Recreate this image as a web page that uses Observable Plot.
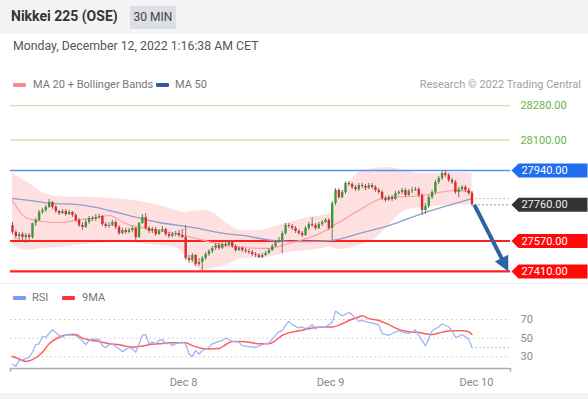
<!DOCTYPE html>
<html><head><meta charset="utf-8">
<script src="https://cdn.jsdelivr.net/npm/d3@7"></script>
<script src="https://cdn.jsdelivr.net/npm/@observablehq/plot@0.6"></script>
<style>
body{margin:0;background:#fff;font-family:Roboto,"Liberation Sans",sans-serif;}
#wrap{position:relative;width:588px;height:399px;overflow:hidden;background:#fff}
.abs{position:absolute;white-space:nowrap}
.sw{position:absolute;height:4px;width:13px;border-radius:1px}
#main,#rsi{position:absolute;left:0}
#main{top:95px}
#rsi{top:300px}
</style></head>
<body><div id="wrap">
<div class="abs" style="left:0;top:0;width:588px;height:34px;background:#f4f4f4"></div>
<div class="abs" style="left:11px;top:8px;font-size:14px;font-weight:700;color:#333">Nikkei 225 (OSE)</div>
<div class="abs" style="left:130px;top:6px;width:46px;height:23px;line-height:23px;background:#dcdfe4;text-align:center;font-size:12px;color:#444">30 MIN</div>
<div class="abs" style="left:13px;top:39px;font-size:12.3px;color:#555">Monday, December 12, 2022 1:16:38 AM CET</div>
<div class="sw" style="left:13px;top:83px;background:#f88"></div>
<div class="abs" style="left:33px;top:78px;font-size:11px;color:#777">MA 20 + Bollinger Bands</div>
<div class="sw" style="left:156px;top:83px;background:#2f5c9e"></div>
<div class="abs" style="left:175px;top:78px;font-size:11px;color:#777">MA 50</div>
<div class="abs" style="right:7px;top:78px;font-size:11px;color:#a0a0a0">Research © 2022 Trading Central</div>
<div class="abs" style="left:0;top:283px;width:588px;height:1px;background:#eee"></div>
<div class="sw" style="left:13px;top:296px;background:#7b9cf0"></div>
<div class="abs" style="left:32px;top:291px;font-size:11px;color:#777">RSI</div>
<div class="sw" style="left:62px;top:296px;background:#f33"></div>
<div class="abs" style="left:82px;top:291px;font-size:11px;color:#777">9MA</div>
<div class="abs" style="left:0;top:393px;width:588px;height:6px;background:#f3f3f3"></div>
<div id="main"></div>
<div id="rsi"></div>
</div>
<script>
// ---- candles (30 min) ----
const opens = [27651,27615,27594,27604,27588,27599,27588,27662,27678,27720,
 27730,27746,27772,27746,27725,27714,27725,27709,27720,27704,
 27678,27651,27641,27667,27688,27683,27693,27699,27657,27646,
 27651,27667,27641,27609,27625,27615,27625,27636,27588,27662,
 27693,27636,27620,27630,27604,27620,27630,27604,27594,27604,
 27609,27599,27588,27478,27468,27494,27447,27457,27478,27499,
 27515,27531,27546,27531,27552,27546,27562,27541,27520,27531,
 27520,27515,27510,27499,27494,27483,27494,27504,27520,27541,
 27562,27573,27609,27651,27646,27636,27620,27609,27599,27636,
 27657,27651,27636,27657,27667,27678,27636,27767,27835,27798,
 27825,27872,27867,27851,27840,27861,27856,27846,27861,27851,
 27835,27825,27793,27783,27798,27788,27819,27825,27835,27809,
 27830,27835,27840,27809,27730,27751,27798,27825,27877,27898,
 27924,27914,27888,27877,27825,27840,27851,27835,27819];
const closes = [27615,27594,27604,27588,27599,27588,27662,27678,27720,27730,
 27746,27772,27746,27725,27714,27725,27709,27720,27704,27678,
 27651,27641,27667,27688,27683,27693,27699,27657,27646,27651,
 27667,27641,27609,27625,27615,27625,27636,27588,27662,27693,
 27636,27620,27630,27604,27620,27630,27604,27594,27604,27609,
 27599,27588,27478,27468,27494,27447,27457,27478,27499,27515,
 27531,27546,27531,27552,27546,27562,27541,27520,27531,27520,
 27515,27510,27499,27494,27483,27494,27504,27520,27541,27562,
 27573,27609,27651,27646,27636,27620,27609,27599,27636,27657,
 27651,27636,27657,27667,27678,27636,27767,27835,27798,27825,
 27872,27867,27851,27840,27861,27856,27846,27861,27851,27835,
 27825,27793,27783,27798,27788,27819,27825,27835,27809,27830,
 27835,27840,27809,27730,27751,27798,27825,27877,27898,27924,
 27914,27888,27877,27825,27840,27851,27835,27819,27760];
const highs = [27667,27625,27615,27615,27609,27609,27662,27688,27730,27741,
 27756,27788,27777,27756,27730,27735,27735,27730,27725,27714,
 27688,27667,27683,27699,27699,27709,27709,27704,27667,27667,
 27678,27678,27651,27636,27636,27636,27646,27641,27667,27709,
 27714,27646,27641,27641,27630,27646,27636,27615,27615,27620,
 27625,27630,27651,27494,27504,27499,27478,27489,27510,27525,
 27541,27557,27557,27562,27567,27573,27573,27552,27541,27541,
 27531,27525,27520,27510,27504,27504,27515,27531,27552,27573,
 27588,27620,27662,27662,27657,27646,27630,27620,27646,27667,
 27693,27662,27667,27678,27688,27688,27777,27846,27846,27835,
 27882,27882,27877,27861,27872,27872,27867,27872,27872,27861,
 27846,27835,27804,27809,27809,27830,27835,27846,27846,27840,
 27851,27851,27851,27819,27767,27809,27835,27888,27909,27935,
 27940,27924,27898,27888,27851,27861,27861,27846,27830];
const lows = [27604,27578,27573,27567,27557,27573,27578,27646,27672,27709,
 27720,27741,27735,27714,27704,27709,27699,27704,27693,27667,
 27641,27625,27636,27657,27672,27672,27683,27646,27636,27636,
 27646,27630,27599,27604,27604,27609,27615,27573,27583,27657,
 27625,27609,27609,27594,27599,27615,27594,27583,27588,27594,
 27588,27583,27468,27452,27457,27436,27436,27415,27468,27489,
 27504,27520,27520,27525,27536,27541,27531,27510,27515,27510,
 27504,27499,27489,27483,27478,27478,27489,27499,27515,27536,
 27557,27504,27599,27636,27625,27609,27599,27588,27594,27625,
 27641,27625,27630,27646,27662,27625,27573,27756,27788,27793,
 27814,27856,27840,27830,27830,27846,27835,27840,27840,27825,
 27814,27783,27772,27777,27777,27783,27809,27814,27798,27804,
 27819,27830,27798,27704,27709,27741,27788,27814,27867,27888,
 27903,27877,27867,27814,27798,27830,27825,27809,27751];

// ---- moving averages & Bollinger band (read at sample candles) ----
const ma50Idx = [0,5,12,19,25,29,34,44,54,64,69,78,83,89,96,104,113,123,133,138];
const ma50Val = [27793,27783,27767,27762,27746,27730,27709,27667,27641,27609,27599,27573,27567,27567,27573,27609,27651,27714,27767,27793];
const ma20Idx = [0,4,9,14,19,25,29,34,44,54,60,64,69,77,83,93,98,104,111,123,133,138];
const ma20Val = [27783,27693,27672,27667,27678,27693,27704,27662,27625,27588,27562,27546,27536,27531,27557,27615,27667,27730,27793,27809,27835,27825];
const bandIdx = [0,5,9,14,24,34,44,49,52,54,57,60,64,69,74,78,83,89,93,95,98,101,104,109,113,118,123,126,131,138];
const bandHi = [27924,27872,27825,27804,27798,27788,27756,27730,27720,27725,27730,27720,27667,27625,27625,27641,27667,27693,27704,27709,27809,27872,27930,27951,27956,27940,27924,27924,27930,27924];
const bandLo = [27546,27520,27531,27536,27557,27562,27546,27536,27494,27452,27415,27426,27441,27478,27478,27489,27510,27520,27531,27536,27525,27531,27546,27583,27651,27730,27746,27751,27756,27762];

// ---- key levels ----
const resistanceLevels = [28280, 28100];
const pillLevels = [27940, 27760, 27570, 27410];
const pillKinds = ["pivot", "last", "support", "support"];
const supportLines = [27570, 27410];
const pivotLine = 27940;
const arrowFrom = {i: 138.7, p: 27760};
const arrowTo = {i: 148.9, p: 27410};

// ---- RSI panel ----
const rsiIdx = [0,1,2,4,5,6,7,8,9,10,11,12,13,14,15,16,18,19,21,22,23,24,25,26,27,28,29,30,32,33,34,35,36,37,38,39,40,41,42,43,44,45,46,47,48,49,50,51,52,53,54,55,56,57,59,60,62,63,64,65,66,68,69,71,73,75,77,78,80,81,82,83,84,86,87,88,89,90,91,92,94,96,97,99,101,102,104,105,107,108,110,111,113,114,116,117,119,120,121,122,124,125,126,128,129,131,132,133,134,135,137,138];
const rsiVal = [22,20,26,28,29.5,35,43,44,52,51,55,59,56,53,51,54,53,53,47.5,43,47.5,49,48.6,49,42,40,43,44,38.5,35.6,38,40,38.5,35,44,53,54,44,45.7,44,47.5,48.6,44,45,42,44,45,45.7,44,33,30.5,36.7,33,36.7,40,44,46.5,47.5,50,48.6,46.5,45.7,42,41,40,43,45,49,57,58,64,68,64.5,61,62,60,62,64.5,60,62,62,67,79,74,77.5,75,68,69,67,66.5,64,55,53,55,58,56.5,55,56.5,59,53,42,49,58,62,65.5,62,58,51,52,54,49,40];
const ma9Idx = [0,2,4,6,9,11,14,17,19,21,24,26,29,32,34,36,39,41,44,47,49,52,54,57,59,62,64,66,69,72,74,77,79,81,84,87,90,93,96,99,101,104,105,107,110,113,116,119,122,126,129,132,135,137,138];
const ma9Val = [30.5,27.7,25,27,35,44,51,54,54,50,47.5,46.5,44,43,41.5,40.3,41.5,43,44,45,45,45,42,39,38.5,39,43,46.5,46.5,45,44,44,47.5,53,56.5,58.5,61,62,62,65.5,69,72.7,74,71,69,64.5,59.4,57,56,54,56.5,58,58,57,54];
const rsiGrid = [30, 50, 70];
const dateTickIdx = [51.35, 95.5, 139.3];
const dateTickLabels = ["Dec 8", "Dec 9", "Dec 10"];

// ---------------- build ----------------
const candles = closes.map((c, i) => ({i, o: opens[i], h: highs[i], l: lows[i], c}));
const ma50 = ma50Idx.map((i, k) => ({i, v: ma50Val[k]}));
const ma20 = ma20Idx.map((i, k) => ({i, v: ma20Val[k]}));
const band = bandIdx.map((i, k) => ({i, hi: bandHi[k], lo: bandLo[k]}));
const pills = pillLevels.map((v, k) => ({v, kind: pillKinds[k]}));
const rsi = rsiIdx.map((i, k) => ({i, v: rsiVal[k]}));
const ma9 = ma9Idx.map((i, k) => ({i, v: ma9Val[k]}));
const lastIdx = closes.length - 1;

const xDomain = [-0.6, 149.55];
const kindColor = {pivot: "#1f6ef0", last: "#333333", support: "#ff0a0a"};
const pillSymbol = {draw(ctx) {
  ctx.moveTo(-36, 0); ctx.lineTo(-29, -7); ctx.lineTo(40, -7);
  ctx.lineTo(40, 7); ctx.lineTo(-29, 7); ctx.closePath();
}};
const headSymbol = {draw(ctx) {
  ctx.moveTo(0, 0); ctx.lineTo(-7.5, -15); ctx.lineTo(7.5, -15); ctx.closePath();
}};
const font = {fontFamily: "Roboto, 'Liberation Sans', sans-serif", fontSize: "11px", background: "transparent", overflow: "visible"};

const main = Plot.plot({
  width: 588, height: 190,
  marginLeft: 10, marginRight: 78, marginTop: 0, marginBottom: 0,
  style: font,
  x: {domain: xDomain, range: [10, 510], axis: null},
  y: {domain: [27360, 28320], range: [185.5, 2.6], axis: null},
  color: {type: "identity"},
  marks: [
    Plot.areaY(band, {x: "i", y1: "lo", y2: "hi", fill: "#ffe0e0", curve: "monotone-x"}),
    Plot.ruleY(resistanceLevels, {stroke: "#c9e6b4", strokeWidth: 1.3}),
    Plot.ruleY([pivotLine], {stroke: "#5b90f5", strokeWidth: 1.3}),
    Plot.ruleY(supportLines, {stroke: "#ff1f1f", strokeWidth: 2.2}),
    Plot.line(ma50, {x: "i", y: "v", stroke: "#8c9fd2", strokeWidth: 1.3, curve: "monotone-x"}),
    Plot.line(ma20, {x: "i", y: "v", stroke: "#ff9a9a", strokeWidth: 1.1, curve: "monotone-x"}),
    Plot.ruleX(candles, {x: "i", y1: "l", y2: "h", stroke: "#666", strokeWidth: 0.9}),
    Plot.ruleX(candles, {x: "i", y1: "o", y2: "c", stroke: d => d.c >= d.o ? "#3a9a3a" : "#e02828", strokeWidth: 2.4}),
    Plot.ruleY([closes[lastIdx]], {x1: lastIdx + 0.8, x2: xDomain[1], stroke: "#777", strokeDasharray: "1.5,2.5"}),
    Plot.ruleY([ma50Val[ma50Val.length - 1]], {x1: lastIdx + 1.2, x2: xDomain[1], stroke: "#aab6dc", strokeDasharray: "1.5,2.5"}),
    Plot.arrow([{from: arrowFrom, to: arrowTo}], {x1: d => d.from.i, y1: d => d.from.p, x2: d => d.to.i, y2: d => d.to.p, stroke: "#2d62a3", strokeWidth: 4, headLength: 0, insetEnd: 10, strokeLinecap: "butt"}),
    Plot.dot([arrowTo], {x: "i", y: "p", symbol: headSymbol, fill: "#2d62a3", stroke: null, rotate: -27}),
    Plot.text(resistanceLevels, {y: d => d, frameAnchor: "right", dx: 33, textAnchor: "middle", text: d => d.toFixed(2), fill: "#6db33f", fontSize: 11}),
    Plot.dot(pills, {y: "v", frameAnchor: "right", dx: 37, symbol: pillSymbol, fill: d => kindColor[d.kind], stroke: null}),
    Plot.text(pills, {y: "v", frameAnchor: "right", dx: 34, textAnchor: "middle", text: d => d.v.toFixed(2), fill: d => d.kind === "last" ? "#eeeeee" : "#ffffff", fontSize: 11})
  ]
});
document.getElementById("main").appendChild(main);

const rsiPlot = Plot.plot({
  width: 588, height: 95,
  marginLeft: 10, marginRight: 78, marginTop: 0, marginBottom: 0,
  style: font,
  x: {domain: xDomain, range: [10, 510], axis: null},
  y: {domain: [17.5, 90.4], range: [68, 0], axis: null},
  marks: [
    Plot.ruleY(rsiGrid, {stroke: "#c8c8c8", strokeDasharray: "1.5,3"}),
    Plot.text(rsiGrid, {y: d => d, frameAnchor: "right", dx: 10, textAnchor: "start", text: d => String(d), fill: "#8a8a8a", fontSize: 11}),
    Plot.line(ma9, {x: "i", y: "v", stroke: "#ff5c5c", strokeWidth: 1.5, curve: "monotone-x"}),
    Plot.line(rsi, {x: "i", y: "v", stroke: "#9fb4f5", strokeWidth: 1.3}),
    Plot.ruleY([rsiVal[rsiVal.length - 1]], {x1: lastIdx, x2: xDomain[1], stroke: "#9fb4f5", strokeDasharray: "1.5,2.5"}),
    Plot.ruleY([17.5], {stroke: "#aaa", strokeWidth: 1.4}),
    Plot.ruleX(xDomain, {y1: 17.5, y2: 13.5, stroke: "#aaa", strokeWidth: 1.4}),
    Plot.text(dateTickIdx, {x: d => d, y: 17.5, dy: 14, text: (d, k) => dateTickLabels[k], fill: "#8a8a8a", fontSize: 11})
  ]
});
document.getElementById("rsi").appendChild(rsiPlot);
</script>
</body></html>
